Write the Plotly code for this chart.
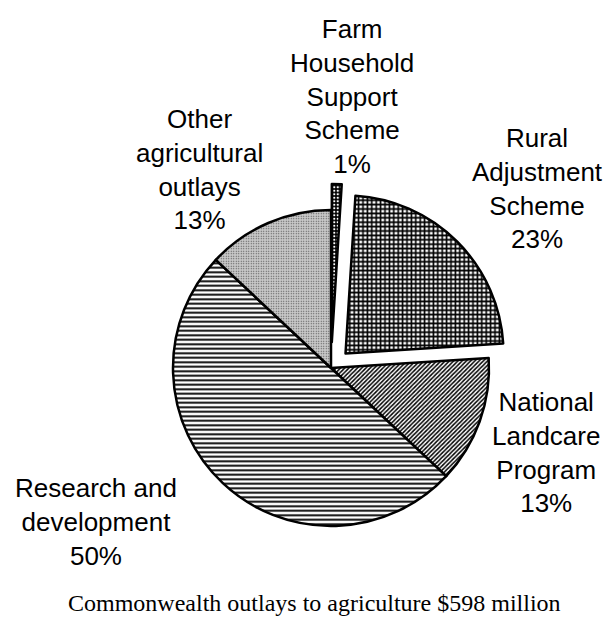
import plotly.graph_objects as go

# Commonwealth outlays to agriculture, share of total (%)
categories = [
    "Farm Household Support Scheme",
    "Rural Adjustment Scheme",
    "National Landcare Program",
    "Research and development",
    "Other agricultural outlays",
]
shares = [1, 23, 13, 50, 13]
label_lines = [
    "Farm<br>Household<br>Support<br>Scheme",
    "Rural<br>Adjustment<br>Scheme",
    "National<br>Landcare<br>Program",
    "Research and<br>development",
    "Other<br>agricultural<br>outlays",
]
title_text = "Commonwealth outlays to agriculture $598 million"

W, H = 614, 619

# slice styling: exploded slices and fill patterns
pulls = [0.165, 0.13, 0, 0, 0]
pattern_shapes = [".", "+", "/", "-", "."]
pattern_fg = ["white", "black", "black", "black", "#4a4a4a"]
pattern_bg = ["black", "white", "white", "white", "#c9c9c9"]
pattern_size = [3.5, 4.4, 3, 4.5, 2.5]
pattern_solidity = [0.35, 0.6, 0.5, 0.42, 0.2]

# pie box: centre (331, 368) px, radius 158 px after pull shrink
cx, cy, r = 331, 368, 158
half = r * (1 + max(pulls))


def px_x(x):
    return x / W


def px_y(y):
    return 1 - y / H


fig = go.Figure(
    go.Pie(
        labels=categories,
        values=shares,
        sort=False,
        direction="clockwise",
        rotation=0,
        pull=pulls,
        textinfo="none",
        hoverinfo="label+percent",
        marker=dict(
            colors=pattern_bg,
            line=dict(color="black", width=2.5),
            pattern=dict(
                shape=pattern_shapes,
                fgcolor=pattern_fg,
                bgcolor=pattern_bg,
                size=pattern_size,
                solidity=pattern_solidity,
                fillmode="replace",
            ),
        ),
        domain=dict(
            x=[px_x(cx - half), px_x(cx + half)],
            y=[px_y(cy + half), px_y(cy - half)],
        ),
        showlegend=False,
    )
)

# label anchor points (px) for each slice
label_pos = [(352, 96), (537, 188), (546, 453), (96, 522), (199, 169)]

annotations = []
for text, share, (lx, ly) in zip(label_lines, shares, label_pos):
    annotations.append(
        dict(
            x=px_x(lx),
            y=px_y(ly),
            xref="paper",
            yref="paper",
            text=f"{text}<br>{share}%",
            showarrow=False,
            xanchor="center",
            yanchor="middle",
            align="center",
            font=dict(family="Liberation Sans, Arial, sans-serif", size=26, color="black"),
        )
    )

annotations.append(
    dict(
        x=px_x(314),
        y=px_y(603),
        xref="paper",
        yref="paper",
        text=title_text,
        showarrow=False,
        xanchor="center",
        yanchor="middle",
        font=dict(family="Liberation Serif, Times New Roman, serif", size=24, color="black"),
    )
)

fig.update_layout(
    width=W,
    height=H,
    margin=dict(l=0, r=0, t=0, b=0),
    paper_bgcolor="white",
    plot_bgcolor="white",
    annotations=annotations,
)

fig.write_html("out.html")
